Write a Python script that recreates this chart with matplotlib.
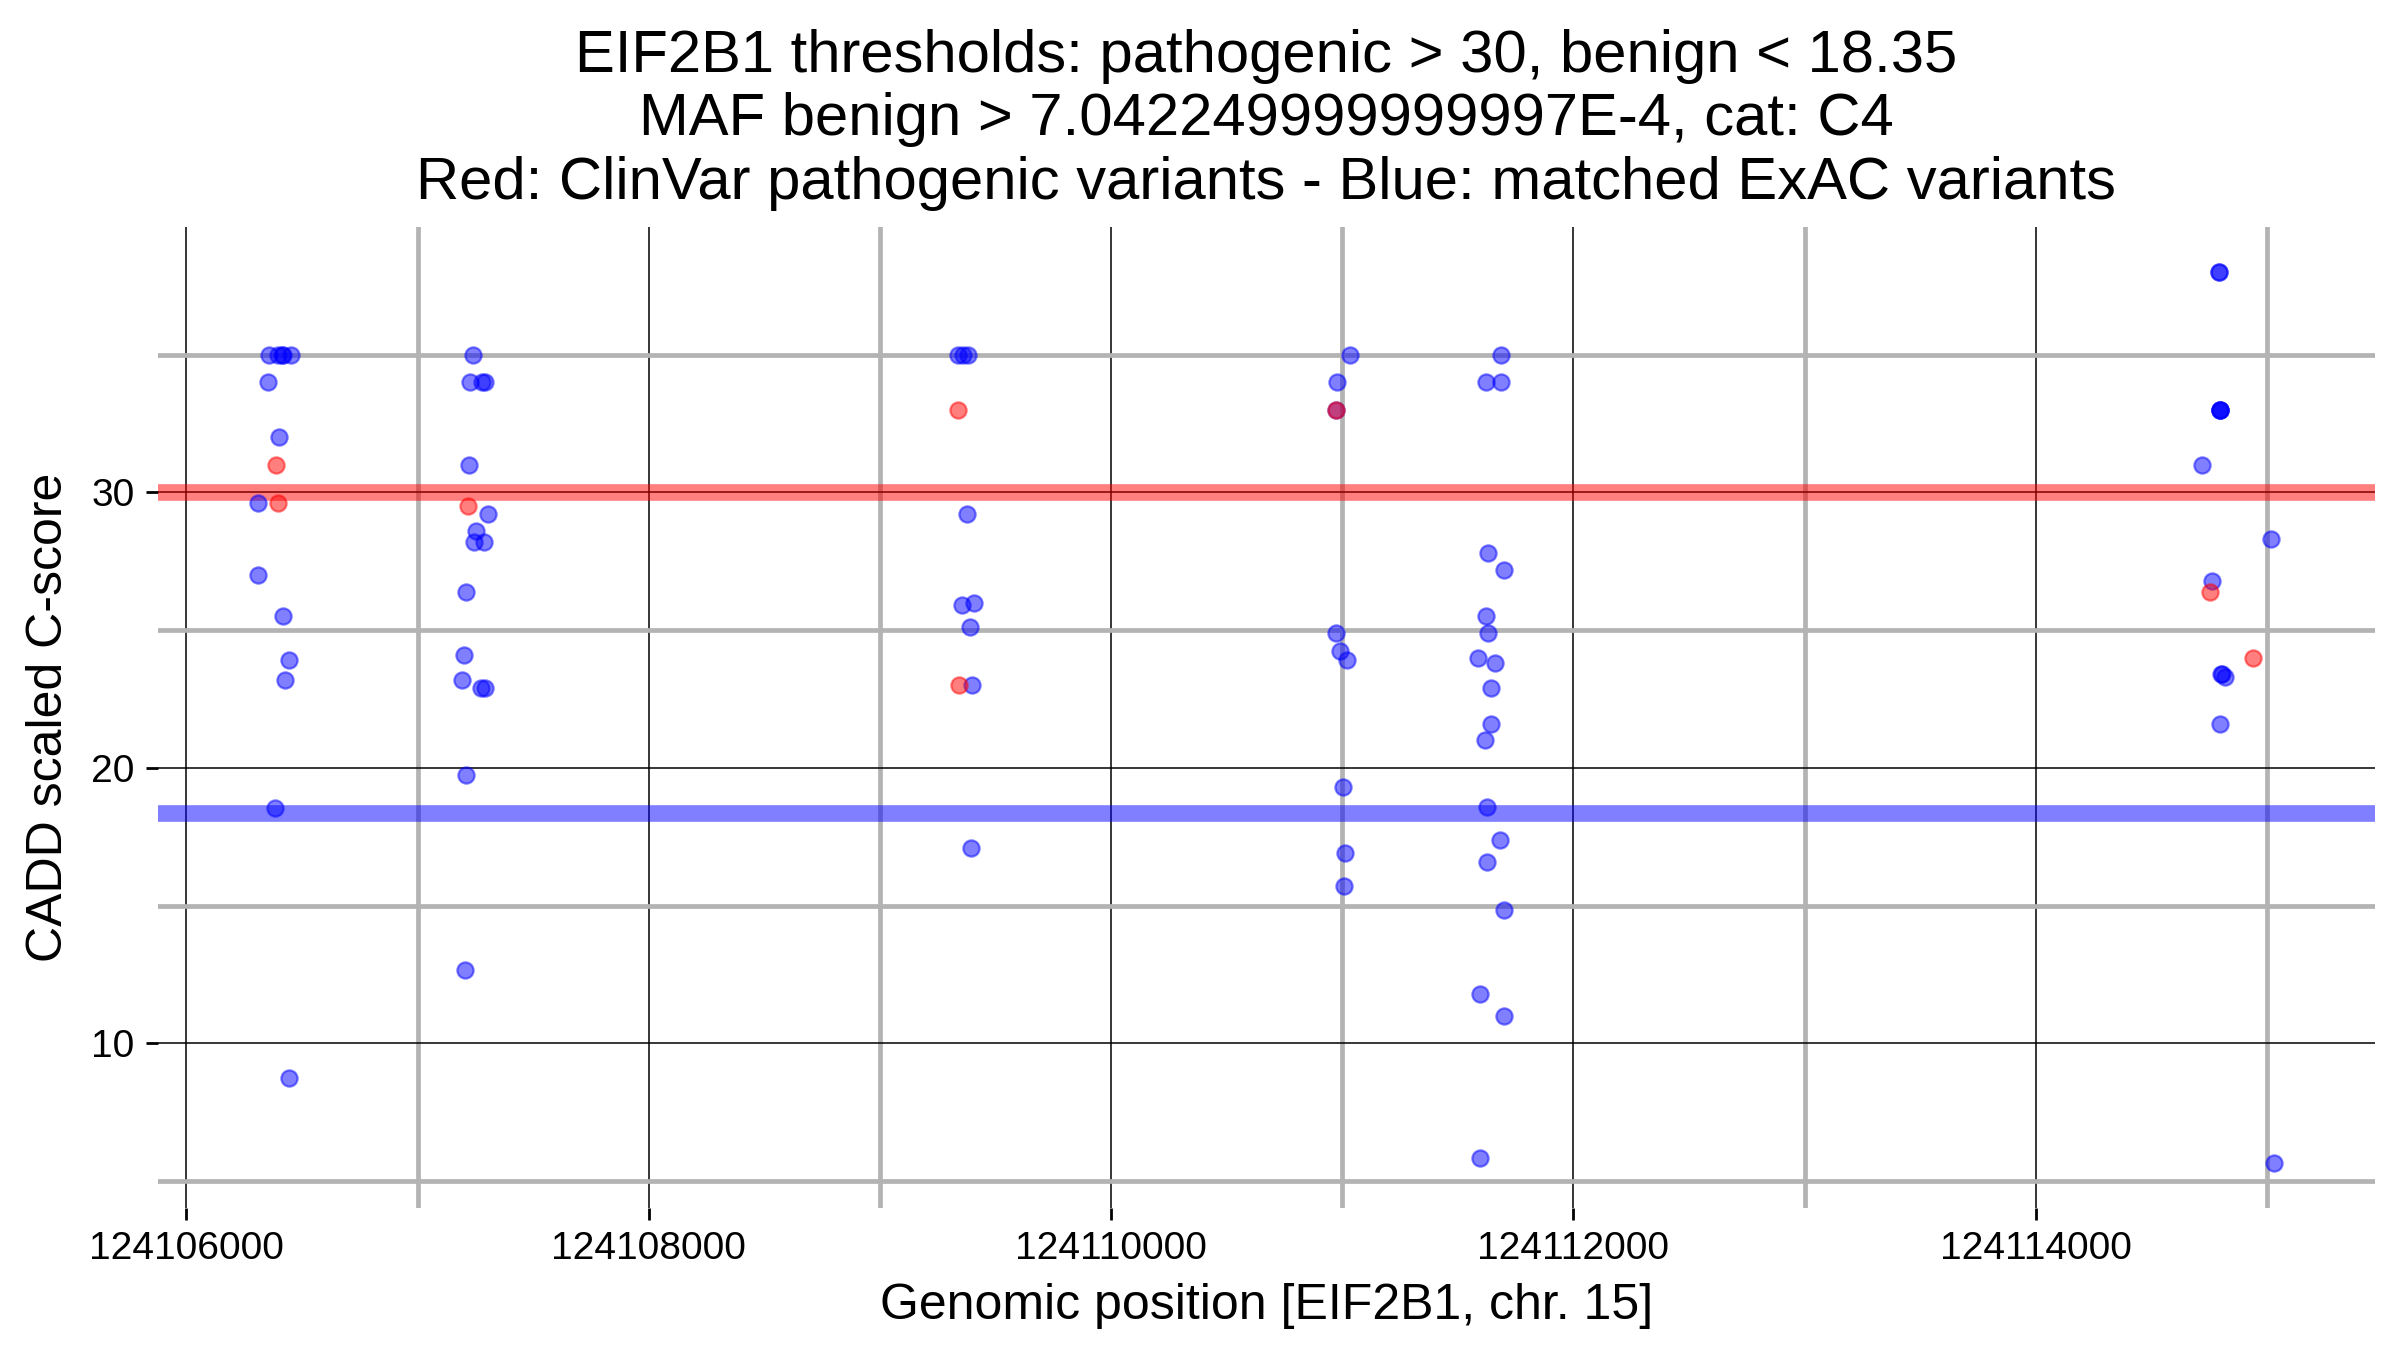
import matplotlib
matplotlib.use("Agg")
import matplotlib.pyplot as plt

plt.rcParams['font.family'] = ['Liberation Sans', 'DejaVu Sans']

# ---- data ----
title_lines = [
    "EIF2B1 thresholds: pathogenic > 30, benign < 18.35",
    "MAF benign > 7.042249999999997E-4, cat: C4",
    "Red: ClinVar pathogenic variants - Blue: matched ExAC variants",
]
xlabel = "Genomic position [EIF2B1, chr. 15]"
ylabel = "CADD scaled C-score"

pathogenic_threshold = 30
benign_threshold = 18.35

red_pos = [124106389, 124106397, 124107220, 124109339, 124109344,
           124110973, 124114755, 124114941]
red_score = [31.0, 29.6, 29.5, 33.0, 23.0, 33.0, 26.4, 24.0]

blue_pos = [
    # cluster 1
    124106356, 124106397, 124106414, 124106420, 124106452, 124106353,
    124106399, 124106311, 124106311, 124106419, 124106443, 124106427,
    124106382, 124106443,
    # cluster 2
    124107242, 124107225, 124107280, 124107293, 124107223, 124107306,
    124107255, 124107246, 124107286, 124107210, 124107200, 124107194,
    124107276, 124107293, 124107210, 124107205,
    # cluster 3
    124109339, 124109361, 124109383, 124109377, 124109357, 124109407,
    124109390, 124109397, 124109394,
    # cluster 4
    124111032, 124110979, 124110973, 124110975, 124110989, 124111021,
    124111005, 124111011, 124111008,
    # cluster 5
    124111688, 124111623, 124111688, 124111632, 124111699, 124111623,
    124111632, 124111589, 124111661, 124111642, 124111644, 124111618,
    124111626, 124111684, 124111626, 124111699, 124111596,
    124111701, 124111597,
    # cluster 6
    124114793, 124114793, 124114796, 124114796, 124114796, 124114796,
    124114720, 124115017, 124114764, 124114800, 124114806, 124114819,
    124114798, 124115032,
]
blue_score = [
    35, 35, 35, 35, 35, 34,
    32.0, 29.6, 27.0, 25.5, 23.9, 23.2,
    18.55, 8.76,
    35, 34, 34, 34, 31.0, 29.2,
    28.6, 28.2, 28.2, 26.4, 24.1, 23.2,
    22.9, 22.9, 19.75, 12.65,
    35, 35, 35, 29.2, 25.9, 26.0,
    25.1, 23.0, 17.1,
    35, 34, 33, 24.9, 24.25, 23.9,
    19.3, 16.9, 15.7,
    35, 34, 34, 27.8, 27.2, 25.5,
    24.9, 24.0, 23.8, 22.9, 21.6, 21.0,
    18.6, 17.4, 16.6, 14.85, 11.8,
    11.0, 5.85,
    38.0, 38.0, 33.0, 33.0, 33.0, 33.0,
    31.0, 28.3, 26.8, 23.4, 23.4, 23.3,
    21.6, 5.65,
]

x_major = [124106000, 124108000, 124110000, 124112000, 124114000]
x_minor = [124107000, 124109000, 124111000, 124113000, 124115000]
y_major = [10, 20, 30]
y_minor = [5, 15, 25, 35]

# ---- figure ----
fig = plt.figure(figsize=(12, 6.75), dpi=200)
ax = fig.add_axes([0.0657, 0.1054, 0.9896 - 0.0657, 0.832 - 0.1054])

ax.set_xlim(124105876, 124115468)
ax.set_ylim(4.04, 39.64)

for s in ax.spines.values():
    s.set_visible(False)

ax.set_xticks(x_major)
ax.set_xticklabels([str(v) for v in x_major])
ax.set_xticks(x_minor, minor=True)
ax.set_yticks(y_major)
ax.set_yticklabels([str(v) for v in y_major])
ax.set_yticks(y_minor, minor=True)

ax.set_axisbelow(True)
ax.grid(which='major', color='black', linewidth=0.55)
ax.grid(which='minor', color='#b3b3b3', linewidth=1.7)

ax.tick_params(which='major', length=4.3, width=1.0, color='black',
               labelsize=14, labelcolor='black', pad=4)
ax.tick_params(which='minor', length=0)

ax.axhline(pathogenic_threshold, color='red', alpha=0.5, linewidth=6, zorder=2)
ax.axhline(benign_threshold, color='blue', alpha=0.5, linewidth=6, zorder=2)

ax.scatter(blue_pos, blue_score, s=34, color='blue', alpha=0.5,
           edgecolors='blue', linewidths=0.8, zorder=3)
ax.scatter(red_pos, red_score, s=34, color='red', alpha=0.5,
           edgecolors='red', linewidths=0.8, zorder=4)

ax.set_xlabel(xlabel, fontsize=18, labelpad=6)
ax.set_ylabel(ylabel, fontsize=18, labelpad=7)
ax.set_title("\n".join(title_lines), fontsize=21.5, linespacing=1.2, pad=10)

fig.savefig("out.png", dpi=200)
